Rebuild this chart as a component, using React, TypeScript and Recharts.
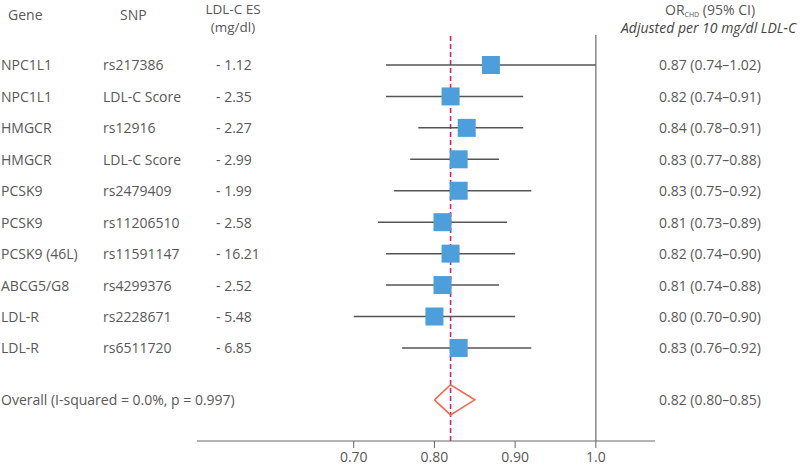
import { ScatterChart, Scatter, XAxis, YAxis, ErrorBar, ReferenceLine } from "recharts";

const genes = ["NPC1L1", "NPC1L1", "HMGCR", "HMGCR", "PCSK9", "PCSK9", "PCSK9 (46L)", "ABCG5/G8", "LDL-R", "LDL-R"];
const snps = ["rs217386", "LDL-C Score", "rs12916", "LDL-C Score", "rs2479409", "rs11206510", "rs11591147", "rs4299376", "rs2228671", "rs6511720"];
const ldlEs = [-1.12, -2.35, -2.27, -2.99, -1.99, -2.58, -16.21, -2.52, -5.48, -6.85];
const orValues = [0.87, 0.82, 0.84, 0.83, 0.83, 0.81, 0.82, 0.81, 0.8, 0.83];
const ciLow = [0.74, 0.74, 0.78, 0.77, 0.75, 0.73, 0.74, 0.74, 0.7, 0.76];
const ciHigh = [1.02, 0.91, 0.91, 0.88, 0.92, 0.89, 0.9, 0.88, 0.9, 0.92];

const overallLabel = "Overall (I-squared = 0.0%, p = 0.997)";
const overallOr = 0.82;
const overallLow = 0.8;
const overallHigh = 0.85;

const xTicks = [0.7, 0.8, 0.9, 1.0];
const xTickLabels = ["0.70", "0.80", "0.90", "1.0"];

// layout bits
const FONT = "'Open Sans', 'Noto Sans', sans-serif";
const TEXT = "#585858";
const BLUE = "#4d9fdb";
const WHISKER = "#555";
const nullLine = 1.0; // whiskers are cut at the line of no effect
const overallRow = genes.length + 0.65;
const diamondHalf = 0.48;

const fmt = (v: number) => v.toFixed(2);

const rows = genes.map((gene, i) => ({
  x: orValues[i],
  y: i,
  gene,
  snp: snps[i],
  es: ldlEs[i],
  err: [orValues[i] - ciLow[i], Math.min(ciHigh[i], nullLine) - orValues[i]],
  label: `${fmt(orValues[i])} (${fmt(ciLow[i])}–${fmt(ciHigh[i])})`,
}));

const diamond = [
  { x: overallLow, y: overallRow },
  { x: overallOr, y: overallRow - diamondHalf },
  { x: overallHigh, y: overallRow },
  { x: overallOr, y: overallRow + diamondHalf },
  { x: overallLow, y: overallRow },
];

const textProps = { fontFamily: FONT, fontSize: 14, fill: TEXT, dominantBaseline: "central" as const };

function RowTick({ y, payload }: any) {
  const v = payload.value;
  if (v === overallRow) {
    return (
      <g>
        <text x={1} y={y} {...textProps}>{overallLabel}</text>
        <text x={659} y={y} {...textProps}>
          {`${fmt(overallOr)} (${fmt(overallLow)}–${fmt(overallHigh)})`}
        </text>
      </g>
    );
  }
  const r = rows[v];
  if (!r) return <g />;
  return (
    <g>
      <text x={1} y={y} {...textProps}>{r.gene}</text>
      <text x={103} y={y} {...textProps}>{r.snp}</text>
      <text x={216} y={y} {...textProps}>{`- ${Math.abs(r.es).toFixed(2)}`}</text>
      <text x={659} y={y} {...textProps}>{r.label}</text>
    </g>
  );
}

const Square = (p: any) => <rect x={p.cx - 9} y={p.cy - 9} width={18} height={18} fill={BLUE} />;

export default function App() {
  const head = { position: "absolute" as const, fontSize: 14, color: TEXT, lineHeight: "17px", whiteSpace: "nowrap" as const };
  return (
    <div style={{ position: "relative", width: 800, height: 466, fontFamily: FONT, background: "#fff" }}>
      <style>{"body{margin:0}"}</style>
      <div style={{ ...head, left: 8, top: 6 }}>Gene</div>
      <div style={{ ...head, left: 120, top: 6 }}>SNP</div>
      <div style={{ ...head, left: 183, top: 2, width: 100, textAlign: "center", lineHeight: "14px", fontSize: 13.5 }}>LDL-C ES</div>
      <div style={{ ...head, left: 183, top: 20, width: 100, textAlign: "center", lineHeight: "14px", fontSize: 13.5 }}>(mg/dl)</div>
      <div style={{ ...head, left: 665, top: 3, lineHeight: "14px" }}>
        OR<span style={{ fontSize: 7, verticalAlign: "-2px" }}>CHD</span> (95% CI)
      </div>
      <div style={{ ...head, left: 621, top: 21, lineHeight: "14px", fontStyle: "italic", fontWeight: 500, color: "#444" }}>
        Adjusted per 10 mg/dl LDL-C
      </div>
      <ScatterChart width={800} height={466} margin={{ top: 35, right: 145, bottom: 0, left: 196 }}>
        <XAxis
          type="number"
          dataKey="x"
          domain={[0.5058, 1.0733]}
          ticks={xTicks}
          tickFormatter={(v: number) => xTickLabels[xTicks.indexOf(v)] ?? String(v)}
          height={25}
          tickSize={7}
          tickMargin={4}
          stroke="#666"
          tick={{ fill: TEXT, fontSize: 14, fontFamily: FONT }}
          allowDataOverflow
        />
        <YAxis
          type="number"
          dataKey="y"
          domain={[-0.954, 11.96]}
          reversed
          ticks={[...rows.map((r) => r.y), overallRow]}
          tick={<RowTick />}
          axisLine={false}
          tickLine={false}
          width={1}
          allowDataOverflow
          interval={0}
        />
        <ReferenceLine x={nullLine} stroke="#888" strokeWidth={1.5} />
        <ReferenceLine x={overallOr} stroke="#c8246a" strokeWidth={1.6} strokeDasharray="5 3" />
        <Scatter data={rows} shape={Square} isAnimationActive={false}>
          <ErrorBar dataKey="err" direction="x" width={0} stroke={WHISKER} strokeWidth={1.5} />
        </Scatter>
        <Scatter
          data={diamond}
          shape={() => <g />}
          line={{ stroke: "#ef6a55", strokeWidth: 1.6, fill: "none" }}
          lineType="joint"
          isAnimationActive={false}
        />
      </ScatterChart>
    </div>
  );
}
